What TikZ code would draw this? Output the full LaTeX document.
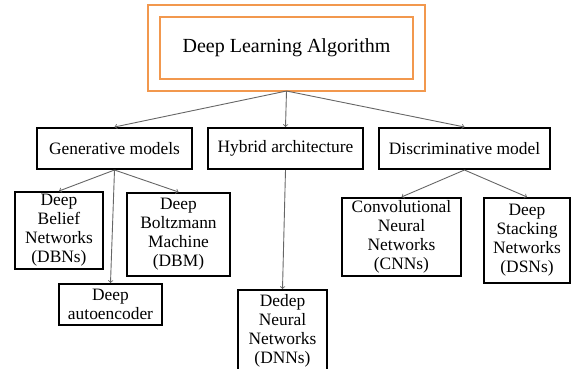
\documentclass[tikz,border=0pt]{standalone}
\usepackage{fontspec}
\setmainfont{Liberation Serif}
\definecolor{dlorange}{RGB}{242,152,78}
\begin{document}
\begin{tikzpicture}[x=1pt, y=-1pt,
  ebene/.style={rectangle, draw=black, line width=2pt, inner sep=0pt, align=center, font=\fontsize{17.4}{19}\selectfont},
  pfeil/.style={->, draw=black!60, line width=0.9pt}]
  \useasboundingbox (0,0) rectangle (573,368);

  % Oberste Box (doppelt, orange)
  \node [draw=dlorange, double=white, double distance=10pt, line width=2pt, minimum width=265pt, minimum height=74pt, outer sep=6pt, font=\fontsize{20}{24}\selectfont] (dla) at (286.5,48) {Deep Learning Algorithm};

  % Zweite Ebene
  \node [ebene, minimum width=155pt, minimum height=41pt] (gen) at (114.5,148.5) {Generative models};
  \node [ebene, minimum width=155pt, minimum height=41pt] (hyb) at (285.5,148.5) {Hybrid architecture};
  \node [ebene, minimum width=171pt, minimum height=41pt] (disc) at (464.5,148.5) {Discriminative model};

  % Dritte Ebene
  \node [ebene, minimum width=88pt, minimum height=77pt] (dbn) at (59,230.5) {Deep\\Belief\\Networks\\(DBNs)};
  \node [ebene, minimum width=103pt, minimum height=83pt] (dbm) at (178.5,234.5) {Deep\\Boltzmann\\Machine\\(DBM)};
  \node [ebene, minimum width=103pt, minimum height=41pt] (ae) at (110.5,304.5) {Deep\\autoencoder};
  \node [ebene, minimum width=89pt, minimum height=82pt] (dnn) at (282.5,331) {Dedep\\Neural\\Networks\\(DNNs)};
  \node [ebene, minimum width=119pt, minimum height=78pt] (cnn) at (401.5,237) {Convolutional\\Neural\\Networks\\(CNNs)};
  \node [ebene, minimum width=86pt, minimum height=85pt] (dsn) at (527,240.5) {Deep\\Stacking\\Networks\\(DSNs)};

  % Verbindungen
  \draw [pfeil] (dla.south) -- (gen.north);
  \draw [pfeil] (dla.south) -- (hyb.north);
  \draw [pfeil] (dla.south) -- (disc.north);
  \draw [pfeil] (gen.south) -- (dbn.north);
  \draw [pfeil] (gen.south) -- (dbm.north);
  \draw [pfeil] (gen.south) -- (ae.north);
  \draw [pfeil] (hyb.south) -- (dnn.north);
  \draw [pfeil] (disc.south) -- (cnn.north);
  \draw [pfeil] (disc.south) -- (dsn.north);
\end{tikzpicture}
\end{document}
